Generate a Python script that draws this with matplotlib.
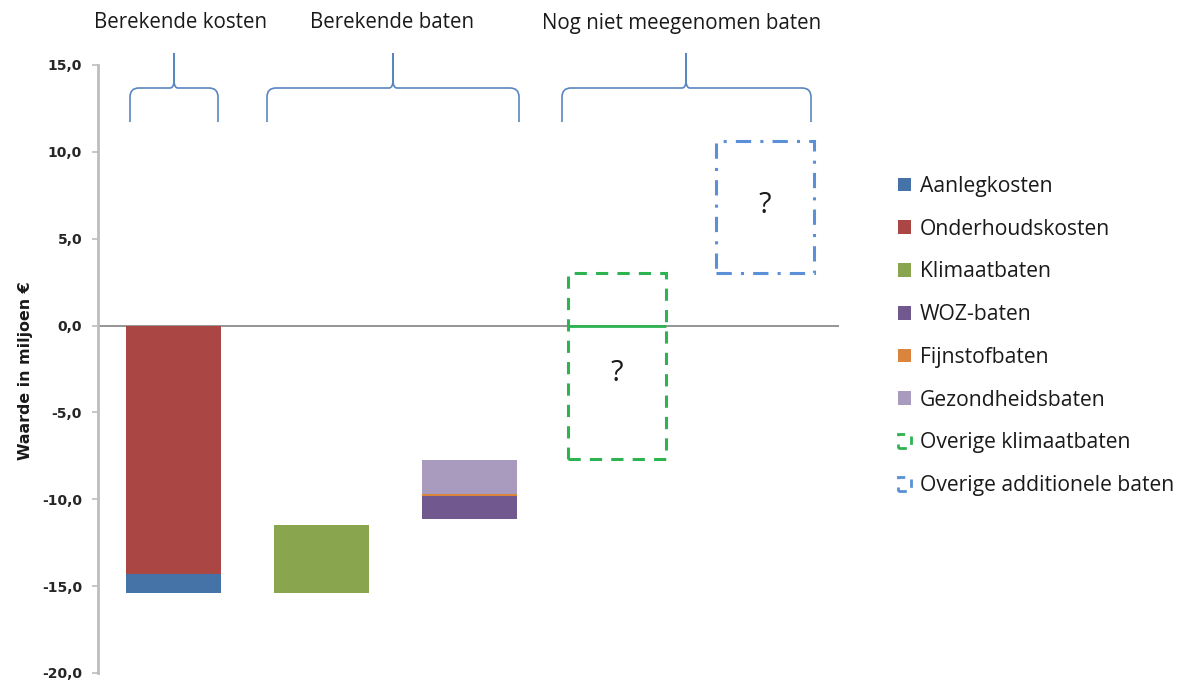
import matplotlib
matplotlib.use("Agg")
import matplotlib.pyplot as plt
from matplotlib.patches import Patch, PathPatch
from matplotlib.path import Path

plt.rcParams["font.family"] = ["Open Sans", "DejaVu Sans"]

# ---- data (miljoen euro) -------------------------------------------------
groups = ["Berekende kosten", "Berekende baten", "Nog niet meegenomen baten"]
positions = [0, 1, 2, 3, 4]

# column 0: costs stacked downward from zero
onderhoudskosten = -14.3
aanlegkosten = -1.1

# column 1: climate benefits, floating from the cost total
klimaatbaten = 3.9
klimaat_start = onderhoudskosten + aanlegkosten

# column 2: WOZ / fine dust / health benefits
woz_start = -11.15
woz_baten = 1.35
fijnstofbaten = 0.08
gezondheidsbaten = 2.0

# columns 3 and 4: benefits not yet quantified (range boxes)
overige_klimaat_range = (-7.7, 3.0)
overige_additioneel_range = (3.0, 10.6)

yticks = [-20, -15, -10, -5, 0, 5, 10, 15]

# ---- styling ---------------------------------------------------------------
c_aanleg = "#4572A7"
c_onderhoud = "#AA4643"
c_klimaat = "#89A54E"
c_woz = "#71588F"
c_fijnstof = "#DB843D"
c_gezond = "#A99BBD"
c_ov_klimaat = "#2DB34F"
c_ov_add = "#5B8FD8"
c_brace = "#5A86C0"
c_text = "#1A1A1A"

W, H = 1202, 682
fig = plt.figure(figsize=(W / 100, H / 100), dpi=100)
ax = fig.add_axes([98 / W, (H - 673) / H, 741 / W, 608 / H])

bw = 0.64
bx = 0.66

# costs
ax.bar(positions[0], onderhoudskosten, bw, color=c_onderhoud, zorder=3)
ax.bar(positions[0], aanlegkosten, bw, bottom=onderhoudskosten, color=c_aanleg, zorder=3)

# climate benefits
ax.bar(positions[1], klimaatbaten, bw, bottom=klimaat_start, color=c_klimaat, zorder=3)

# woz / fine dust / health
ax.bar(positions[2], woz_baten, bw, bottom=woz_start, color=c_woz, zorder=3)
ax.bar(positions[2], fijnstofbaten, bw, bottom=woz_start + woz_baten, color=c_fijnstof, zorder=3)
ax.bar(positions[2], gezondheidsbaten, bw, bottom=woz_start + woz_baten + fijnstofbaten,
       color=c_gezond, zorder=3)

# unknown benefit ranges
lo, hi = overige_klimaat_range
ax.bar(positions[3], hi - lo, bx, bottom=lo, facecolor="none", edgecolor=c_ov_klimaat,
       linewidth=2.2, linestyle=(0, (4, 3)), zorder=4)
ax.hlines(0, positions[3] - bx / 2, positions[3] + bx / 2, color=c_ov_klimaat, lw=2, zorder=4)
ax.text(positions[3], (lo + hi) / 2 - 0.4, "?", ha="center", va="center",
        fontsize=21, color=c_text, zorder=5)

lo2, hi2 = overige_additioneel_range
ax.bar(positions[4], hi2 - lo2, bx, bottom=lo2, facecolor="none", edgecolor=c_ov_add,
       linewidth=2.2, linestyle=(0, (5, 3, 1, 3)), zorder=4)
ax.text(positions[4], (lo2 + hi2) / 2 + 0.1, "?", ha="center", va="center",
        fontsize=21, color=c_text, zorder=5)

# axes
ax.set_xlim(-0.51, 4.5)
ax.set_ylim(-20, 15)
ax.axhline(0, color="#8C8C8C", lw=1.3, zorder=2)
for s in ["top", "right", "bottom"]:
    ax.spines[s].set_visible(False)
ax.spines["left"].set_color("#BDBDBD")
ax.spines["left"].set_linewidth(2)
ax.set_xticks([])
ax.set_yticks(yticks)
ax.set_yticklabels([f"{v:.1f}".replace(".", ",") for v in yticks],
                   fontsize=10, fontweight="bold", color="#262626", family="DejaVu Sans")
ax.tick_params(axis="y", length=4, width=1.2, color="#BDBDBD", pad=7.5)
ax.set_ylabel("Waarde in miljoen €", fontsize=11.4, fontweight="bold", color=c_text,
              family="DejaVu Sans")
ax.yaxis.set_label_coords(-0.088, 0.497)


# curly braces over the groups (figure pixel coordinates, origin top-left)
def brace(x0, x1, xc, y_end=122, y_mid=88, y_tip=53, r=9):
    def p(x, y):
        return (x / W, 1 - y / H)
    verts = [
        p(x0, y_end), p(x0, y_mid + r),
        p(x0, y_mid), p(x0 + r, y_mid),
        p(xc - 4, y_mid),
        p(xc, y_mid), p(xc, y_mid - 8),
        p(xc, y_tip),
        p(xc, y_mid - 8),
        p(xc, y_mid), p(xc + 4, y_mid),
        p(x1 - r, y_mid),
        p(x1, y_mid), p(x1, y_mid + r),
        p(x1, y_end),
    ]
    codes = [Path.MOVETO, Path.LINETO,
             Path.CURVE3, Path.CURVE3,
             Path.LINETO,
             Path.CURVE3, Path.CURVE3,
             Path.LINETO,
             Path.LINETO,
             Path.CURVE3, Path.CURVE3,
             Path.LINETO,
             Path.CURVE3, Path.CURVE3,
             Path.LINETO]
    fig.add_artist(PathPatch(Path(verts, codes), transform=fig.transFigure,
                             facecolor="none", edgecolor=c_brace, lw=1.2))


brace(130, 218, 174)
brace(267, 519, 393)
brace(562, 811, 686)

for label, xc in zip(groups, [180, 392, 682]):
    fig.text(xc / W, 1 - 23 / H, label, ha="center", va="center", fontsize=14.8, color=c_text)

# legend
handles = [
    Patch(facecolor=c_aanleg, label="Aanlegkosten"),
    Patch(facecolor=c_onderhoud, label="Onderhoudskosten"),
    Patch(facecolor=c_klimaat, label="Klimaatbaten"),
    Patch(facecolor=c_woz, label="WOZ-baten"),
    Patch(facecolor=c_fijnstof, label="Fijnstofbaten"),
    Patch(facecolor=c_gezond, label="Gezondheidsbaten"),
    Patch(facecolor="none", edgecolor=c_ov_klimaat, linestyle=(0, (3, 3)), lw=2,
          label="Overige klimaatbaten"),
    Patch(facecolor="none", edgecolor=c_ov_add, linestyle=(0, (3, 3)), lw=2,
          label="Overige additionele baten"),
]
leg = fig.legend(handles=handles, loc="upper left", bbox_to_anchor=(898 / W, 1 - 176 / H),
                 frameon=False, fontsize=15.2, handlelength=0.62, handleheight=0.62,
                 handletextpad=0.42, labelspacing=1.03, borderaxespad=0, borderpad=0)
for t in leg.get_texts():
    t.set_color(c_text)

fig.savefig("out.png", dpi=100)
